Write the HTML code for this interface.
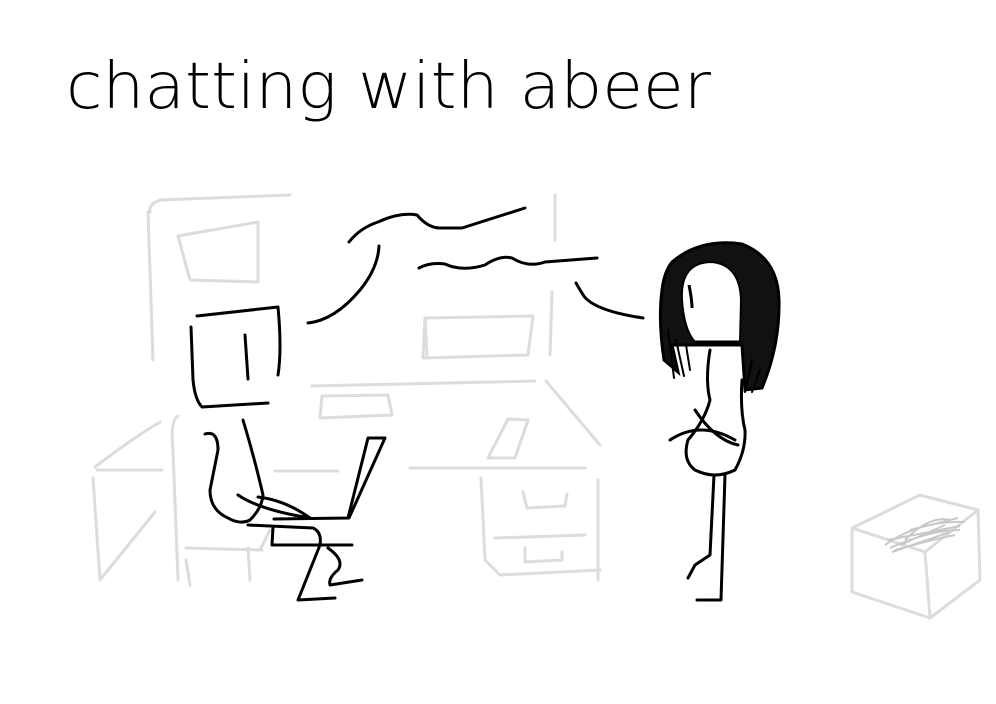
<!DOCTYPE html>
<html><head><style>
html,body{margin:0;padding:0;background:#fff;}
svg{display:block}
</style></head><body>
<svg width="996" height="704" viewBox="0 0 996 704" xmlns="http://www.w3.org/2000/svg">
<rect width="996" height="704" fill="#fff"/>
<text x="66" y="108" font-family="'DejaVu Sans ExtraLight','DejaVu Sans','Liberation Sans',sans-serif" font-size="64" fill="#000" textLength="645" lengthAdjust="spacingAndGlyphs" style="font-weight:200">chatting with abeer</text>

<g fill="none" stroke="#dcdcdc" stroke-width="3" stroke-linecap="round" stroke-linejoin="round">
<path d="M150 212 Q148 205 160 200 L290 195"/>
<path d="M148 212 L153 360"/>
<path d="M178 236 L258 222 L258 282 L190 280 Z"/>
<path d="M555 195 L555 240 M552 292 L550 355"/>
<path d="M425 318 L533 316 L528 355 L423 358 Z M425 318 L427 355"/>
<path d="M312 386 L535 381"/>
<path d="M546 381 L600 445"/>
<path d="M322 396 L388 395 L392 415 L320 418 Z"/>
<path d="M508 419 L528 420 L515 458 L488 458 Z"/>
<path d="M410 468 L585 468 M275 471 L338 471"/>
<path d="M481 478 L485 560 L500 575 L600 570 M598 480 L598 580"/>
<path d="M523 492 L527 508 L565 506 L567 494"/>
<path d="M495 538 L585 535"/>
<path d="M525 548 L525 562 L562 560 L562 552"/>
<path d="M95 467 Q130 440 160 422"/>
<path d="M97 470 L162 470"/>
<path d="M93 478 L100 580 L155 512"/>
<path d="M178 416 Q170 420 173 450 L178 580"/>
<path d="M186 560 L190 585 M248 548 L250 580"/>
<path d="M186 548 L262 550 M260 550 L270 530"/>
<path d="M852 528 L852 592 L930 618 L980 580 L978 510 L920 495 Z"/>
<path d="M852 528 L925 552 L978 510 M925 552 L930 618"/>
</g>
<g fill="none" stroke="#c8c8c8" stroke-width="2">
<path d="M885 545 Q920 520 965 522 M890 548 Q930 530 960 530 M895 550 Q930 540 955 535 M905 540 Q930 515 950 520 M900 545 L945 525 M888 540 L960 526 M892 552 L950 532 M910 530 L958 518"/>
</g>

<g fill="none" stroke="#000" stroke-width="3" stroke-linecap="round" stroke-linejoin="round">
<path d="M349 242 Q360 228 378 222 Q400 212 417 215 Q428 228 440 228 L462 228 L525 208"/>
<path d="M379 246 Q378 268 360 290 Q335 320 308 323"/>
<path d="M419 268 Q430 262 445 264 Q462 272 485 265 Q500 255 512 258 Q528 268 545 262 L597 258"/>
<path d="M576 283 Q580 290 582 293 Q590 310 643 318"/>
<path d="M197 316 L278 307 Q282 350 278 375"/>
<path d="M191 327 L193 380 Q195 400 202 407 L268 403"/>
<path d="M245 335 L248 379"/>
<path d="M205 434 Q218 430 218 450 Q214 470 210 490 Q210 510 228 518 Q240 525 250 520 Q262 508 263 495 Q255 460 243 420"/>
<path d="M238 495 Q260 510 310 518 M258 497 Q285 500 310 518"/>
<path d="M274 519 L349 518 L385 438 L368 438 L348 518"/>
<path d="M273 527 L272 545 L352 545"/>
<path d="M248 525 L313 528 Q322 532 320 545 L298 600 L335 598"/>
<path d="M328 548 Q345 560 338 570 Q328 578 330 585 L362 580"/>
</g>
<!-- hair -->
<path d="M672 262 Q700 238 742 244 Q778 258 779 300 Q780 345 762 388 L745 390 L742 345 L672 345 L678 372 L664 360 Q658 320 662 290 Q664 272 672 262 Z" fill="#111" stroke="#000" stroke-width="3"/>
<g fill="none" stroke="#000" stroke-width="2" stroke-linecap="round">
<path d="M668 330 L674 378 M676 340 L684 376 M686 345 L690 370 M752 360 L745 392 M760 370 L752 392"/>
</g>
<g fill="none" stroke="#000" stroke-width="3" stroke-linecap="round" stroke-linejoin="round">
<path d="M710 350 Q705 380 710 400 Q705 420 688 440 Q682 460 695 470 Q715 480 735 470 Q746 450 745 430 Q740 410 742 380"/>
<path d="M670 440 Q700 420 735 440"/>
<path d="M695 410 Q715 440 738 445"/>
<path d="M714 475 L710 555 L695 565 L688 578"/>
<path d="M725 475 L721 600 L697 600"/>
</g>
<path d="M682 300 Q680 262 712 262 Q740 265 741 300 L740 342 L695 342 Q684 330 682 300 Z" fill="#fff" stroke="#000" stroke-width="2"/>
<path d="M689 285 Q692 300 692 308 M695 342 L740 342" stroke="#000" stroke-width="3" fill="none"/>
</svg>
</body></html>
